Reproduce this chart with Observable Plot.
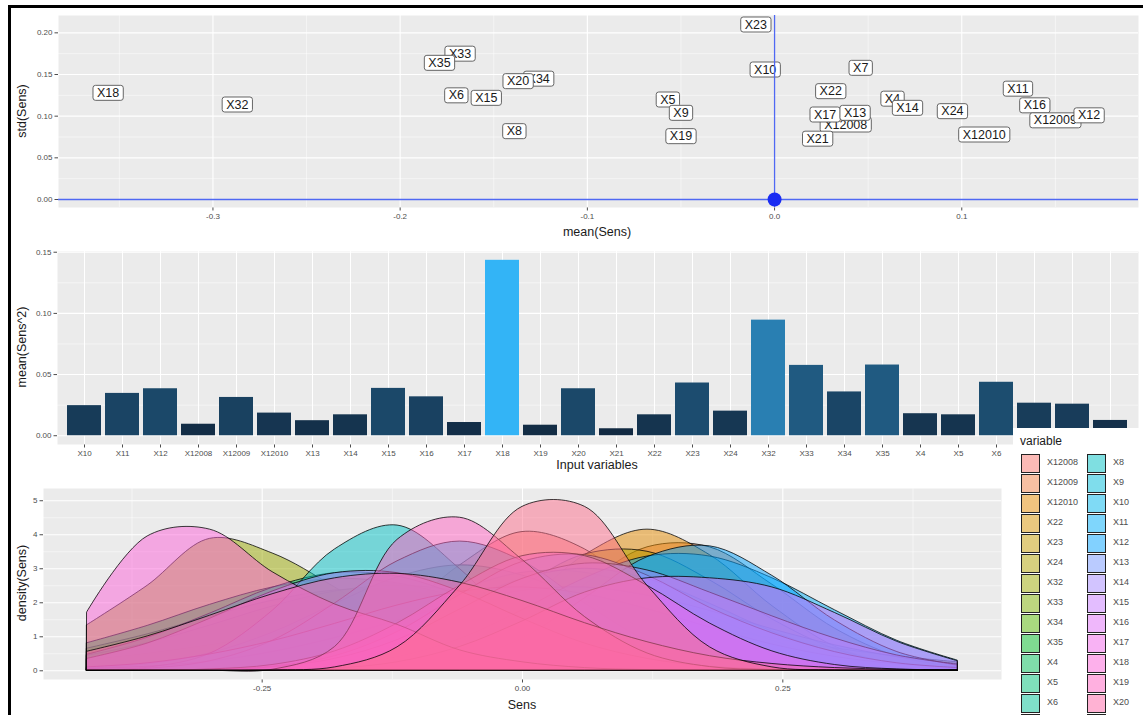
<!DOCTYPE html>
<html><head><meta charset="utf-8">
<script src="https://cdn.jsdelivr.net/npm/d3@7"></script>
<script src="https://cdn.jsdelivr.net/npm/@observablehq/plot@0.6"></script>
<style>
body{margin:0;background:#fff;font-family:"Liberation Sans",Arial,sans-serif;}
#root{position:relative;width:1143px;height:715px;overflow:hidden;background:#fff;}
.frameline{position:absolute;left:8px;top:5px;width:1200px;height:800px;border-left:3px solid #000;border-top:3px solid #000;box-sizing:border-box;pointer-events:none;z-index:5;}
.ax{position:absolute;font-size:12.5px;color:#1a1a1a;white-space:nowrap;transform:translate(-50%,-50%);z-index:3;}
.ax.rot{transform:translate(-50%,-50%) rotate(-90deg);}
#legend{position:absolute;left:1013px;top:428px;width:140px;height:300px;background:#fff;z-index:4;}
.lgtitle{position:absolute;left:7px;top:6px;font-size:12px;color:#1a1a1a;}
.lgkey{position:absolute;width:17px;height:17px;border:1px solid #222;box-sizing:content-box;}
.lglab{position:absolute;font-size:9px;color:#4d4d4d;}
</style></head><body><div id="root"></div>
<script>
// ---------- Panel 1: mean vs std of sensitivities ----------
const sensLabels = ["X18","X32","X33","X35","X34","X20","X6","X15","X8","X5","X9","X19","X23","X10","X7","X22","X12008","X17","X13","X21","X4","X14","X24","X12010","X11","X16","X12009","X12"];
const sensMean = [-0.356,-0.287,-0.168,-0.179,-0.126,-0.137,-0.170,-0.154,-0.139,-0.057,-0.050,-0.050,-0.010,-0.005,0.046,0.030,0.038,0.027,0.043,0.023,0.063,0.071,0.095,0.112,0.130,0.139,0.150,0.168];
const sensStd  = [0.128,0.114,0.175,0.164,0.145,0.142,0.125,0.122,0.082,0.120,0.104,0.076,0.210,0.156,0.158,0.130,0.090,0.102,0.104,0.073,0.121,0.110,0.106,0.078,0.133,0.113,0.095,0.101];
const scatterXTicks = [-0.3,-0.2,-0.1,0.0,0.1];
const scatterXMinor = [-0.35,-0.25,-0.15,-0.05,0.05,0.15];
const scatterYTicks = [0,0.05,0.10,0.15,0.20];
const scatterYMinor = [0.025,0.075,0.125,0.175];

// ---------- Panel 2: mean(Sens^2) ----------
const barVars = ["X10","X11","X12","X12008","X12009","X12010","X13","X14","X15","X16","X17","X18","X19","X20","X21","X22","X23","X24","X32","X33","X34","X35","X4","X5","X6","X7","X8","X9"];
const barValues = [0.0246,0.0346,0.0384,0.0094,0.0313,0.0185,0.0123,0.0171,0.0387,0.0318,0.0108,0.1434,0.0086,0.0384,0.0057,0.0171,0.0431,0.0201,0.0945,0.0575,0.0358,0.0578,0.0180,0.0171,0.0437,0.0266,0.0258,0.0125];
const barYTicks = [0,0.05,0.10,0.15];
const barYMinor = [0.025,0.075,0.125];

// ---------- Panel 3: density(Sens) ----------
const densVars = ["X12008","X12009","X12010","X22","X23","X24","X32","X33","X34","X35","X4","X5","X6","X7","X8","X9","X10","X11","X12","X13","X14","X15","X16","X17","X18","X19","X20","X21"];
const sensGrid = [-0.418,-0.36,-0.30,-0.24,-0.18,-0.12,-0.06,0,0.06,0.12,0.18,0.24,0.30,0.36,0.418];
const dX12008 = [0,0,0.02,0.13,0.55,1.6,3.1,4.08,3.57,2.1,0.82,0.22,0.04,0.01,0];
const dX12009 = [0,0,0,0,0.02,0.1,0.42,1.24,2.53,3.63,3.63,2.53,1.24,0.42,0.1];
const dX12010 = [0,0,0,0,0.03,0.18,0.71,1.9,3.4,4.15,3.4,1.9,0.71,0.18,0.03];
const dX22 = [0.01,0.05,0.15,0.4,0.88,1.6,2.36,2.88,2.88,2.36,1.6,0.88,0.4,0.15,0.05];
const dX23 = [0.31,0.5,0.75,1.05,1.36,1.63,1.81,1.86,1.76,1.55,1.26,0.95,0.66,0.42,0.25];
const dX24 = [0,0,0.01,0.04,0.16,0.54,1.33,2.48,3.42,3.5,2.66,1.51,0.64,0.2,0.05];
const dX32 = [1.34,2.5,3.88,3.45,2.45,1.3,0.62,0.27,0.1,0.03,0.01,0,0,0,0];
const dX33 = [0.65,1.07,1.59,2.06,2.36,2.36,2.06,1.59,1.07,0.62,0.32,0.15,0.06,0.02,0.01];
const dX34 = [0.44,0.81,1.33,1.89,2.33,2.5,2.33,1.89,1.33,0.81,0.43,0.2,0.08,0.03,0.01];
const dX35 = [0.81,1.32,1.94,2.45,2.7,2.57,2.13,1.54,0.96,0.52,0.24,0.1,0.04,0.01,0];
const dX4 = [0,0.02,0.07,0.21,0.54,1.15,1.97,2.7,3.0,2.7,1.97,1.15,0.54,0.21,0.07];
const dX5 = [0.06,0.19,0.51,1.12,1.96,2.75,3.1,2.8,2.05,1.19,0.56,0.21,0.06,0.02,0];
const dX6 = [0.47,0.97,1.68,2.44,2.87,2.77,2.2,1.42,0.77,0.34,0.12,0.03,0.01,0,0];
const dX7 = [0.05,0.12,0.27,0.55,0.96,1.47,1.99,2.35,2.45,2.21,1.76,1.22,0.75,0.4,0.2];
const dX8 = [0.01,0.09,0.5,1.76,3.57,4.27,2.99,1.21,0.29,0.04,0,0,0,0,0];
const dX9 = [0.01,0.06,0.28,0.88,1.98,3.22,3.8,3.22,1.98,0.88,0.28,0.06,0.01,0,0];
const dX10 = [0.1,0.22,0.48,0.87,1.38,1.92,2.32,2.45,2.25,1.81,1.27,0.77,0.41,0.19,0.08];
const dX11 = [0,0,0.01,0.04,0.14,0.4,0.93,1.78,2.72,3.36,3.36,2.72,1.78,0.88,0.3];
const dX12 = [0,0,0,0,0.01,0.06,0.29,0.95,2.13,3.34,3.66,2.79,1.48,0.55,0.15];
const dX13 = [0,0,0.02,0.12,0.43,1.14,2.23,3.2,3.4,2.8,1.85,1.1,0.55,0.22,0.08];
const dX14 = [0,0,0.02,0.1,0.35,0.9,1.8,2.7,3.15,2.95,2.3,1.6,0.95,0.45,0.18];
const dX15 = [0.35,0.8,1.53,2.33,2.87,2.87,2.33,1.53,0.8,0.35,0.12,0.03,0.01,0,0];
const dX16 = [0,0,0,0.01,0.06,0.25,0.7,1.45,2.3,2.72,2.72,2.45,1.7,0.85,0.28];
const dX17 = [0,0,0.04,0.17,0.57,1.39,2.5,3.37,3.37,2.5,1.39,0.57,0.17,0.04,0.01];
const dX18 = [1.72,3.95,4.15,2.9,1.95,1.35,0.6,0.25,0.08,0.02,0,0,0,0,0];
const dX19 = [0,0,0,0.03,0.7,3.85,4.5,3.26,1.58,0.51,0.11,0.02,0,0,0];
const dX20 = [0.56,1.01,1.62,2.25,2.72,2.85,2.59,2.05,1.4,0.84,0.43,0.2,0.08,0.03,0.01];
const dX21 = [0,0,0,0.01,0.1,0.69,2.5,4.82,4.82,2.5,0.69,0.1,0.01,0,0];
const densCurves = [dX12008,dX12009,dX12010,dX22,dX23,dX24,dX32,dX33,dX34,dX35,dX4,dX5,dX6,dX7,dX8,dX9,dX10,dX11,dX12,dX13,dX14,dX15,dX16,dX17,dX18,dX19,dX20,dX21];
const densXTicks = [-0.25,0,0.25];
const densXMinor = [-0.375,-0.125,0.125,0.375];
const densYTicks = [0,1,2,3,4,5];
const densYMinor = [0.5,1.5,2.5,3.5,4.5];

// ---------- helpers ----------
// ggplot-style hue palette (polar LUV, c = 100, l = 65)
function hclLuv(h, c, l) {
  const hr = h * Math.PI / 180, U = c * Math.cos(hr), V = c * Math.sin(hr);
  const Xn = 95.047, Yn = 100, Zn = 108.883;
  const den = Xn + 15 * Yn + 3 * Zn, un = 4 * Xn / den, vn = 9 * Yn / den;
  const Y = l > 8 ? Yn * Math.pow((l + 16) / 116, 3) : Yn * l / 903.3;
  const up = U / (13 * l) + un, vp = V / (13 * l) + vn;
  const X = Y * 9 * up / (4 * vp), Z = Y * (12 - 3 * up - 20 * vp) / (4 * vp);
  const x = X / 100, y = Y / 100, z = Z / 100;
  const r = 3.2404542 * x - 1.5371385 * y - 0.4985314 * z;
  const g = -0.9692660 * x + 1.8760108 * y + 0.0415560 * z;
  const b = 0.0556434 * x - 0.2040259 * y + 1.0572252 * z;
  const gam = v => { v = v <= 0.0031308 ? 12.92 * v : 1.055 * Math.pow(v, 1 / 2.4) - 0.055; return Math.round(255 * Math.max(0, Math.min(1, v))); };
  return `rgb(${gam(r)},${gam(g)},${gam(b)})`;
}
const nV = densVars.length;
const densColors = densVars.map((_, i) => hclLuv(15 + i * (360 / nV), 100, 65));

const root = document.getElementById("root");
const fontFam = "'Liberation Sans', Arial, sans-serif";
const W = 1143;
const f2 = d => d.toFixed(2);
const baseStyle = top => ({fontFamily: fontFam, fontSize: "8px", color: "#4d4d4d", background: "transparent", position: "absolute", left: "0px", top: top + "px", overflow: "visible"});
const gridMarks = (xMinor, xMajor, yMinor, yMajor) => [
  Plot.frame({fill: "#EBEBEB", stroke: "none"}),
  ...(xMinor ? [Plot.ruleX(xMinor, {stroke: "#fff", strokeWidth: 0.5})] : []),
  Plot.ruleY(yMinor, {stroke: "#fff", strokeWidth: 0.5}),
  Plot.ruleX(xMajor, {stroke: "#fff", strokeWidth: 1.1}),
  Plot.ruleY(yMajor, {stroke: "#fff", strokeWidth: 1.1})
];

// ---------- Panel 1 ----------
const scatterRows = sensLabels.map((v, i) => ({variable: v, mean: sensMean[i], std: sensStd[i]}));
const p1 = Plot.plot({
  width: W, height: 240, marginLeft: 58, marginRight: 5, marginTop: 15, marginBottom: 33,
  style: baseStyle(0),
  x: {domain: [-0.3825, 0.1944], ticks: scatterXTicks, tickFormat: d => d.toFixed(1), tickSize: 3.5, tickPadding: 2.5, label: null},
  y: {domain: [-0.0096, 0.2208], ticks: scatterYTicks, tickFormat: f2, tickSize: 3.5, tickPadding: 2.5, label: null},
  marks: [
    ...gridMarks(scatterXMinor, scatterXTicks, scatterYMinor, scatterYTicks),
    Plot.text(scatterRows, {x: "mean", y: "std", text: "variable", fontSize: 12.5, fill: "#1a1a1a"}),
    Plot.ruleY([0], {stroke: "#4f68f3", strokeWidth: 1.3}),
    Plot.ruleX([0], {stroke: "#4f68f3", strokeWidth: 1.3}),
    Plot.dot([{mean: 0, std: 0}], {x: "mean", y: "std", r: 7, fill: "#1a2cf2", stroke: "none"})
  ]
});
root.appendChild(p1);
// boxes behind labels (label style of ggrepel)
(function () {
  const g = p1.querySelector('g[aria-label="text"]');
  if (!g) return;
  g.querySelectorAll("text").forEach(t => {
    const b = t.getBBox();
    const r = document.createElementNS("http://www.w3.org/2000/svg", "rect");
    r.setAttribute("x", b.x - 4);
    r.setAttribute("y", b.y - 0.5);
    r.setAttribute("width", b.width + 8);
    r.setAttribute("height", b.height + 1);
    r.setAttribute("rx", 2.5);
    r.setAttribute("fill", "#fff");
    r.setAttribute("stroke", "#555");
    r.setAttribute("stroke-width", 0.9);
    const tr = t.getAttribute("transform");
    if (tr) r.setAttribute("transform", tr);
    t.parentNode.insertBefore(r, t);
  });
})();

// ---------- Panel 2 ----------
const barRows = barVars.map((v, i) => ({variable: v, value: barValues[i]}));
const p2 = Plot.plot({
  width: W, height: 240, marginLeft: 57, marginRight: 5, marginTop: 11, marginBottom: 36,
  style: baseStyle(240),
  x: {type: "band", domain: barVars, paddingInner: 0.1, paddingOuter: 0.15, tickSize: 3.5, tickPadding: 2.5, label: null},
  y: {domain: [-0.00717, 0.1506], ticks: barYTicks, tickFormat: f2, tickSize: 3.5, tickPadding: 2.5, label: null},
  color: {type: "linear", range: ["#122A42", "#33B4F6"], interpolate: d3.interpolateLab},
  marks: [
    ...gridMarks(null, barVars, barYMinor, barYTicks),
    Plot.barY(barRows, {x: "variable", y1: 0, y2: "value", fill: "value"})
  ]
});
root.appendChild(p2);

// ---------- Panel 3 ----------
const densRows = [];
densVars.forEach((v, i) => densCurves[i].forEach((d, j) => densRows.push({variable: v, sens: sensGrid[j], density: d})));
const p3 = Plot.plot({
  width: W, height: 235, marginLeft: 43, marginRight: 142, marginTop: 8, marginBottom: 36,
  style: baseStyle(480),
  x: {domain: [-0.46, 0.46], ticks: densXTicks, tickFormat: f2, tickSize: 3.5, tickPadding: 2.5, label: null},
  y: {domain: [-0.256, 5.36], ticks: densYTicks, tickFormat: d => String(d), tickSize: 3.5, tickPadding: 2.5, label: null},
  color: {domain: densVars, range: densColors},
  marks: [
    ...gridMarks(densXMinor, densXTicks, densYMinor, densYTicks),
    Plot.areaY(densRows, {x: "sens", y1: 0, y2: "density", z: "variable", fill: "variable", fillOpacity: 0.5, stroke: "#000", strokeOpacity: 0.85, strokeWidth: 0.9, curve: "catmull-rom"})
  ]
});
root.appendChild(p3);

// ---------- axis titles ----------
function title(text, cx, cy, rot) {
  const d = document.createElement("div");
  d.className = "ax" + (rot ? " rot" : "");
  d.textContent = text;
  d.style.left = cx + "px";
  d.style.top = cy + "px";
  root.appendChild(d);
}
title("std(Sens)", 22, 111, true);
title("mean(Sens)", 597, 232, false);
title("mean(Sens^2)", 22, 347, true);
title("Input variables", 597, 465, false);
title("density(Sens)", 22, 583, true);
title("Sens", 522, 705, false);

// ---------- legend ----------
const lg = document.createElement("div");
lg.id = "legend";
lg.innerHTML = '<div class="lgtitle">variable</div>';
const rgbaOf = c => { const k = d3.color(c); k.opacity = 0.5; return k.formatRgb(); };
densVars.forEach((v, i) => {
  const col = Math.floor(i / 14), row = i % 14;
  const cy = 35 + row * 20;
  const key = document.createElement("div");
  key.className = "lgkey";
  key.style.left = (8 + col * 66) + "px";
  key.style.top = (cy - 9) + "px";
  key.style.background = rgbaOf(densColors[i]);
  lg.appendChild(key);
  const lab = document.createElement("div");
  lab.className = "lglab";
  lab.textContent = v;
  lab.style.left = (34 + col * 66) + "px";
  lab.style.top = (cy - 6) + "px";
  lg.appendChild(lab);
});
root.appendChild(lg);

const fl = document.createElement("div");
fl.className = "frameline";
root.appendChild(fl);
</script>
</body></html>
